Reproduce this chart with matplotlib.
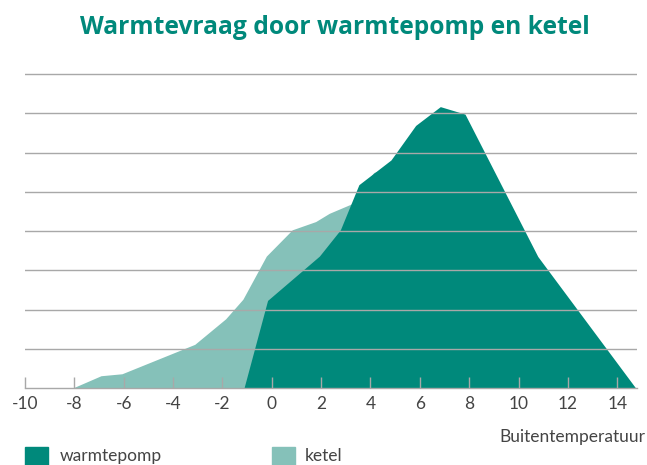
import matplotlib
matplotlib.use("Agg")
from matplotlib import pyplot as plt
from matplotlib.patches import Rectangle

# outside temperature (x) and heat demand (arbitrary units, gridlines = 1)
ketel_temp = [-8.0, -6.9, -6.05, -3.1, -1.85, -1.15, -0.2, 0.85, 1.8, 2.35, 3.25, 4.15, 4.75, 4.9, 4.9]
ketel_vraag = [0.0, 0.3, 0.35, 1.1, 1.75, 2.25, 3.35, 4.02, 4.23, 4.44, 4.68, 5.48, 5.6, 5.62, 0.0]

wp_temp = [-1.1, -0.15, 1.95, 2.8, 3.55, 4.85, 5.85, 6.85, 7.85, 10.8, 14.75]
wp_vraag = [0.0, 2.22, 3.35, 4.02, 5.17, 5.8, 6.68, 7.16, 6.97, 3.34, 0.0]

x_ticks = list(range(-10, 15, 2))
grid_levels = list(range(1, 9))

dark = '#00897b'
light = '#85c1b9'
text_grey = '#444444'

plt.rcParams['font.family'] = ['Lato', 'DejaVu Sans']

fig = plt.figure(figsize=(6.47, 4.65), dpi=100)
ax = fig.add_axes([25 / 647, 77 / 465, 612 / 647, 315 / 465])

ax.fill(ketel_temp, ketel_vraag, color=light, lw=0, zorder=1)
ax.fill(wp_temp, wp_vraag, color=dark, lw=0, zorder=2)

# gridlines are drawn over the areas
for g in grid_levels:
    ax.axhline(g, color='#a8a8a8', lw=1.0, zorder=3)

ax.set_xlim(-10, 14.8)
ax.set_ylim(0, 8.03)
ax.set_axisbelow(False)
for s in ['top', 'right', 'left']:
    ax.spines[s].set_visible(False)
ax.spines['bottom'].set_color('#a8a8a8')
ax.spines['bottom'].set_linewidth(1.0)
ax.set_yticks([])
ax.set_xticks(x_ticks)
ax.set_xticklabels([str(t) for t in x_ticks])
ax.tick_params(axis='x', direction='in', length=8, width=1.0, color='#a8a8a8',
               labelsize=12.5, labelcolor=text_grey, pad=6)
for t in ax.xaxis.get_major_ticks():
    t.tick1line.set_zorder(5)

fig.text(0.518, 1 - 27 / 465, 'Warmtevraag door warmtepomp en ketel', ha='center', va='center',
         fontsize=17.7, fontweight='bold', color=dark, family=['Open Sans', 'DejaVu Sans'])

fig.text(645 / 647, 1 - 437 / 465, 'Buitentemperatuur', ha='right', va='center',
         fontsize=12.5, color=text_grey)

# legend
fig.patches.append(Rectangle((25 / 647, 0), 23 / 647, 18 / 465, transform=fig.transFigure,
                             color=dark))
fig.text(60 / 647, 4 / 465, 'warmtepomp', ha='left', va='baseline', fontsize=12.5, color=text_grey)
fig.patches.append(Rectangle((272 / 647, 0), 23 / 647, 18 / 465, transform=fig.transFigure,
                             color=light))
fig.text(305 / 647, 4 / 465, 'ketel', ha='left', va='baseline', fontsize=12.5, color=text_grey)

fig.savefig('out.png', dpi=100)
